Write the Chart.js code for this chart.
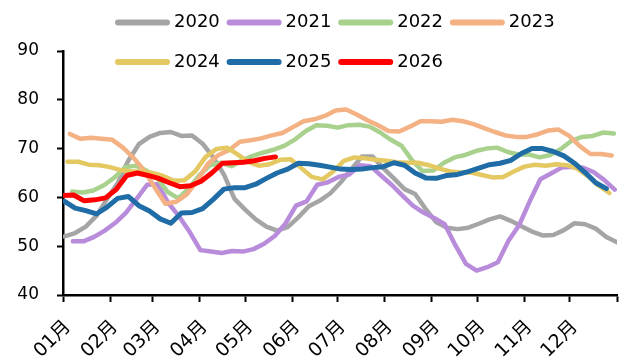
<!DOCTYPE html>
<html>
<head>
<meta charset="utf-8">
<script src="https://cdn.jsdelivr.net/npm/chart.js@4/dist/chart.umd.min.js"></script>
<style>
  html, body { margin: 0; padding: 0; background: #fff; }
  canvas { display: block; }
</style>
</head>
<body>
<canvas id="chart" width="622" height="358"></canvas>
<script>
// Weekly readings per year (values), first reading's day-of-year for each year
const years = ['2020', '2021', '2022', '2023', '2024', '2025', '2026'];
const firstDay = [1, 6.5, 6, 4.5, 3, 1, 0];

const v2020 = [52.0, 52.7, 54.0, 56.2, 59.7, 62.9, 67.5, 70.9, 72.4, 73.2, 73.4, 72.6, 72.7, 71.0,
  68.2, 64.7, 59.7, 57.5, 55.5, 54.0, 53.2, 53.9, 55.9, 58.2, 59.3, 60.8, 63.1, 65.8, 68.4, 68.4,
  66.0, 63.9, 61.7, 60.7, 57.6, 54.9, 53.8, 53.5, 53.8, 54.6, 55.5, 56.1, 55.2, 54.1, 53.0, 52.2,
  52.3, 53.3, 54.7, 54.5, 53.6, 51.9, 50.8];
const v2021 = [51.0, 51.0, 51.9, 53.2, 54.8, 56.9, 59.7, 62.6, 62.7, 58.8, 56.1, 52.9, 49.2, 48.9,
  48.6, 49.0, 48.9, 49.4, 50.5, 52.1, 54.6, 58.3, 59.2, 62.6, 63.1, 64.2, 64.7, 66.6, 66.4, 64.5,
  62.6, 60.4, 58.3, 56.9, 55.8, 54.5, 50.2, 46.4, 45.0, 45.7, 46.7, 51.1, 54.3, 59.2, 63.7, 64.9,
  66.1, 66.3, 66.1, 65.2, 63.6, 61.6];
const v2022 = [61.2, 61.0, 61.4, 62.5, 64.1, 66.2, 66.5, 65.5, 64.0, 61.1, 59.8, 61.9, 64.6, 66.6,
  67.1, 66.4, 67.6, 68.5, 69.2, 69.8, 70.6, 71.9, 73.6, 74.8, 74.7, 74.3, 74.8, 74.9, 74.5, 73.3,
  71.8, 70.6, 67.6, 65.4, 65.5, 67.1, 68.2, 68.7, 69.5, 70.0, 70.2, 69.3, 68.8, 68.8, 68.2, 68.7,
  69.9, 71.6, 72.4, 72.6, 73.3, 73.1];
const v2023 = [73.0, 72.0, 72.2, 72.0, 71.8, 70.2, 68.1, 65.5, 62.0, 58.7, 59.1, 60.6, 63.4, 66.9,
  68.7, 69.7, 71.4, 71.7, 72.1, 72.7, 73.2, 74.4, 75.6, 76.0, 76.7, 77.8, 78.0, 77.0, 75.8, 74.8,
  73.6, 73.5, 74.5, 75.6, 75.6, 75.5, 75.9, 75.6, 75.0, 74.2, 73.4, 72.7, 72.4, 72.4, 72.9, 73.7,
  73.9, 72.6, 70.5, 68.9, 68.9, 68.6];
const v2024 = [67.3, 67.3, 66.7, 66.6, 66.2, 65.6, 65.3, 65.3, 65.0, 64.4, 63.4, 63.5, 65.3, 68.3,
  69.9, 70.2, 68.8, 67.3, 66.5, 66.8, 67.7, 67.8, 66.0, 64.2, 63.7, 65.3, 67.5, 68.2, 68.0, 67.7,
  67.5, 67.2, 67.1, 67.1, 66.6, 65.9, 65.3, 65.1, 65.1, 64.6, 64.1, 64.2, 65.3, 66.3, 66.7, 66.5,
  66.8, 66.6, 65.9, 64.3, 62.4, 60.9];
const v2025 = [59.2, 57.8, 57.3, 56.6, 58.0, 59.8, 60.2, 58.3, 57.2, 55.6, 54.7, 56.8, 56.9, 57.7,
  59.6, 61.7, 62.0, 62.0, 62.7, 63.9, 65.0, 65.8, 67.0, 66.9, 66.6, 66.2, 65.8, 65.7, 65.8, 66.1,
  66.3, 67.1, 66.6, 65.0, 64.0, 63.9, 64.5, 64.7, 65.3, 66.0, 66.7, 67.0, 67.6, 69.0, 70.0, 70.0,
  69.4, 68.5, 67.0, 65.1, 63.0, 61.8];
const v2026 = [60.4, 60.5, 59.3, 59.5, 59.9, 61.6, 64.5, 65.0, 64.5, 63.9, 63.0, 62.2, 62.4, 63.3,
  65.0, 67.0, 67.1, 67.2, 67.5, 68.0, 68.3];

const seriesValues = [v2020, v2021, v2022, v2023, v2024, v2025, v2026];
const colors = ['#A5A5A5', '#B98CDB', '#A9D18E', '#F4B183', '#E4C862', '#1F6CA6', '#FF0000'];
const widths = [4.5, 4.5, 4.5, 4.5, 4.5, 5, 5];

// Month boundaries (day of year) and their labels
const monthTicks = [0, 31, 59, 90, 120, 151, 181, 212, 243, 273, 304, 334, 365];
const monthLabels = ['01月', '02月', '03月', '04月', '05月', '06月', '07月', '08月', '09月', '10月', '11月', '12月', ''];
const yTicks = [40, 50, 60, 70, 80, 90];

const FONT = "'DejaVu Sans', 'Noto Sans CJK SC', sans-serif";

const datasets = years.map((label, k) => ({
  label,
  data: seriesValues[k].map((v, i) => ({ x: firstDay[k] + 7 * i, y: v })),
  borderColor: colors[k],
  backgroundColor: colors[k],
  borderWidth: widths[k],
  pointRadius: 0,
  tension: 0,
  fill: false,
  borderJoinStyle: 'round',
  borderCapStyle: 'round',
  order: years.length - 1 - k   // later years drawn on top
}));

// Two-row legend laid out on a fixed grid of four columns
const yearLegend = {
  id: 'yearLegend',
  afterDraw(chart) {
    const ctx = chart.ctx;
    ctx.save();
    ctx.font = '18px ' + FONT;
    ctx.textBaseline = 'middle';
    ctx.textAlign = 'left';
    chart.data.datasets.forEach((ds, i) => {
      const col = i % 4, row = Math.floor(i / 4);
      const x0 = 118 + col * 111.6;
      const y = 22.5 + row * 39.5;
      ctx.strokeStyle = ds.borderColor;
      ctx.lineWidth = 6;
      ctx.lineCap = 'round';
      ctx.beginPath();
      ctx.moveTo(x0, y);
      ctx.lineTo(x0 + 49, y);
      ctx.stroke();
      ctx.fillStyle = '#000';
      ctx.fillText(ds.label, x0 + 56, y);
    });
    ctx.restore();
  }
};

// Month names under the x axis, slanted at 45 degrees, placed through the x scale
const monthNames = {
  id: 'monthNames',
  afterDraw(chart) {
    const xs = chart.scales.x;
    const ctx = chart.ctx;
    ctx.save();
    ctx.font = '19px ' + FONT;
    ctx.fillStyle = '#000';
    ctx.textAlign = 'right';
    ctx.textBaseline = 'middle';
    monthTicks.forEach((d, i) => {
      if (!monthLabels[i]) return;
      const px = xs.getPixelForValue(d);
      ctx.save();
      ctx.translate(px + 5, xs.top + 29);
      ctx.rotate(-Math.PI / 4);
      ctx.fillText(monthLabels[i], 0, 0);
      ctx.restore();
    });
    ctx.restore();
  }
};

new Chart(document.getElementById('chart'), {
  type: 'line',
  data: { datasets },
  plugins: [yearLegend, monthNames],
  options: {
    responsive: false,
    devicePixelRatio: 1,
    animation: false,
    layout: { padding: { top: 51, right: 5, left: 0, bottom: 0 } },
    plugins: {
      legend: { display: false },
      tooltip: { enabled: false }
    },
    scales: {
      x: {
        type: 'linear',
        min: 0,
        max: 365,
        afterBuildTicks: s => { s.ticks = monthTicks.map(v => ({ value: v })); },
        afterFit: s => { s.height = 63; },
        ticks: { display: false, autoSkip: false },
        grid: { drawOnChartArea: false, drawTicks: true, tickLength: 7, tickColor: '#000', tickWidth: 2 },
        border: { display: true, color: '#000', width: 2.5 }
      },
      y: {
        min: 40,
        max: 90,
        afterBuildTicks: s => { s.ticks = yTicks.map(v => ({ value: v })); },
        afterFit: s => { s.width = 63; },
        ticks: {
          padding: 18,
          color: '#000',
          font: { family: FONT, size: 17 }
        },
        grid: { drawOnChartArea: false, drawTicks: true, tickLength: 6, tickColor: '#000', tickWidth: 2 },
        border: { display: true, color: '#000', width: 2.5 }
      }
    }
  }
});
</script>
</body>
</html>
